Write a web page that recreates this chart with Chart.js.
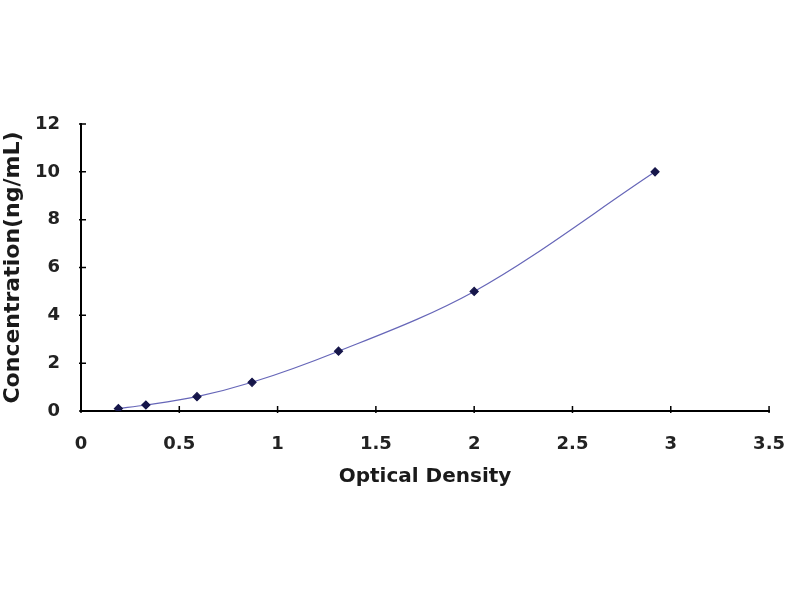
<!DOCTYPE html>
<html lang="en">
<head>
    <meta charset="UTF-8">
    <title>Standard Curve</title>
    <script src="https://cdn.jsdelivr.net/npm/chart.js@4.4.0/dist/chart.umd.min.js"></script>
    <style>
        html, body { margin: 0; padding: 0; background: #fff; }
        .wrap { width: 800px; height: 600px; }
    </style>
</head>
<body>
    <div class="wrap"><canvas id="curve" width="800" height="600"></canvas></div>
    <script>
        // standard curve points
        const odValues = [0.19, 0.33, 0.59, 0.87, 1.31, 2.0, 2.92];
        const concValues = [0.1, 0.25, 0.6, 1.2, 2.5, 5.0, 10.0];
        const xTicks = [0, 0.5, 1, 1.5, 2, 2.5, 3, 3.5];
        const yTicks = [0, 2, 4, 6, 8, 10, 12];

        const points = odValues.map((x, i) => ({ x: x, y: concValues[i] }));
        const tickFont = { family: '"DejaVu Sans", sans-serif', size: 18, weight: 'bold' };
        const xTitleFont = { family: '"DejaVu Sans", sans-serif', size: 20, weight: 'bold' };
        const yTitleFont = { family: '"DejaVu Sans", sans-serif', size: 22, weight: 'bold' };

        // small tick marks drawn on the inner side of both axes
        const innerTicks = {
            id: 'innerTicks',
            afterDraw(chart) {
                const ctx = chart.ctx;
                const xs = chart.scales.x, ys = chart.scales.y;
                const left = chart.chartArea.left, bottom = chart.chartArea.bottom;
                ctx.save();
                ctx.strokeStyle = '#000';
                ctx.lineWidth = 1.5;
                ctx.beginPath();
                xTicks.forEach(v => {
                    const px = xs.getPixelForValue(v);
                    ctx.moveTo(px, bottom + 2);
                    ctx.lineTo(px, bottom - 5);
                });
                yTicks.forEach(v => {
                    const py = ys.getPixelForValue(v);
                    ctx.moveTo(left - 2, py);
                    ctx.lineTo(left + 5, py);
                });
                ctx.stroke();
                ctx.restore();
            }
        };

        new Chart(document.getElementById('curve'), {
            type: 'scatter',
            data: {
                datasets: [{
                    data: points,
                    showLine: true,
                    tension: 0.4,
                    cubicInterpolationMode: 'monotone',
                    borderColor: '#6666b8',
                    borderWidth: 1.2,
                    pointStyle: 'rectRot',
                    pointRadius: 4,
                    pointBackgroundColor: '#16164a',
                    pointBorderColor: '#16164a'
                }]
            },
            options: {
                responsive: false,
                animation: false,
                layout: { padding: { top: 124, right: 27, bottom: 105, left: 0 } },
                plugins: { legend: { display: false }, tooltip: { enabled: false } },
                scales: {
                    x: {
                        type: 'linear',
                        min: 0,
                        max: 3.5,
                        afterBuildTicks: s => { s.ticks = xTicks.map(v => ({ value: v })); },
                        afterFit: s => { s.height = 84; },
                        grid: { display: false },
                        border: { display: true, color: '#000', width: 2 },
                        ticks: { color: '#222', font: tickFont, padding: 15, maxRotation: 0, callback: v => String(v) },
                        title: { display: true, text: 'Optical Density', color: '#1a1a1a', font: xTitleFont, padding: { top: 0, bottom: 6 } }
                    },
                    y: {
                        type: 'linear',
                        min: 0,
                        max: 12,
                        afterBuildTicks: s => { s.ticks = yTicks.map(v => ({ value: v })); },
                        afterFit: s => { s.width = 81; },
                        grid: { display: false },
                        border: { display: true, color: '#000', width: 2 },
                        ticks: { color: '#222', font: tickFont, padding: 13, callback: v => String(v) },
                        title: { display: true, text: 'Concentration(ng/mL)', color: '#1a1a1a', font: yTitleFont, padding: { top: 0, bottom: 0 } }
                    }
                }
            },
            plugins: [innerTicks]
        });
    </script>
</body>
</html>
